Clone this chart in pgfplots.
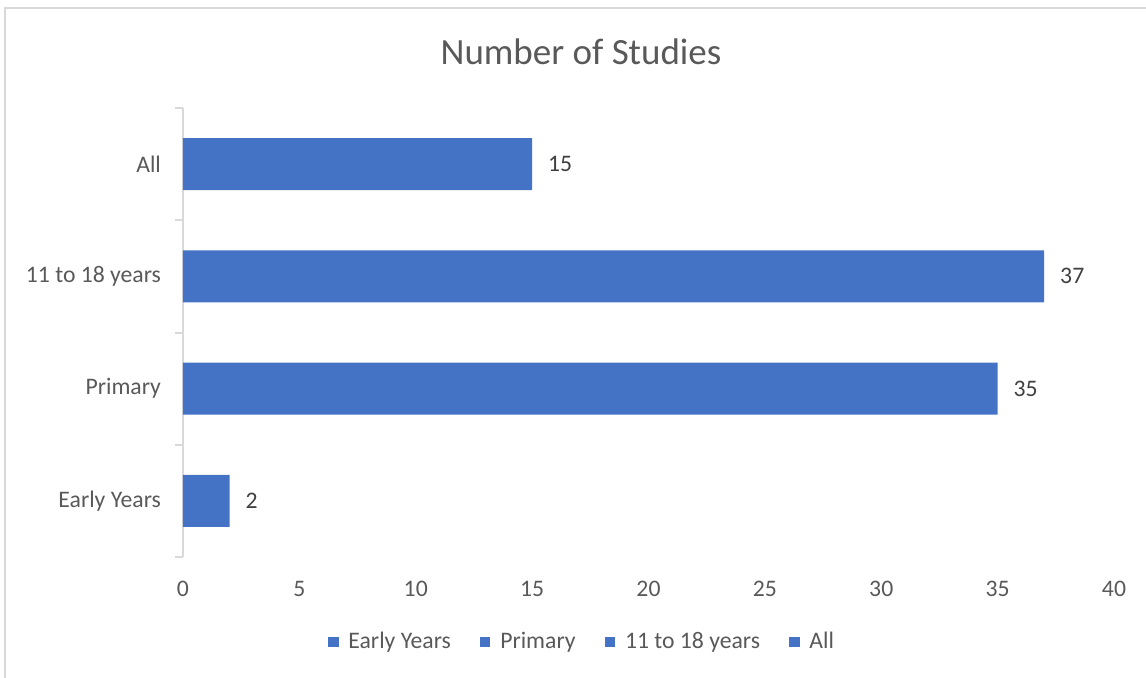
\documentclass[border=0pt]{standalone}
\usepackage{fontspec}
\setmainfont{Carlito}
\usepackage{pgfplots}
\pgfplotsset{compat=1.18}
\definecolor{barblue}{HTML}{4472C4}
\definecolor{txtgray}{HTML}{595959}
\definecolor{lblgray}{HTML}{404040}
\definecolor{axgray}{HTML}{D9D9D9}
\begin{document}
\begin{tikzpicture}
\useasboundingbox (0,0) rectangle (573pt,-339pt);
\draw[axgray, line width=1pt] (2.5pt,-339pt) -- (2.5pt,-4pt) -- (573pt,-4pt);
\node[text=txtgray, font=\fontsize{18.5}{22}\selectfont] at (290.5pt,-26pt) {Number of Studies};
\begin{axis}[
  at={(91.5pt,-278.5pt)}, anchor=south west,
  scale only axis, width=465.5pt, height=224.5pt,
  xbar, bar width=0.463, bar shift=0pt,
  xmin=0, xmax=40, ymin=-0.5, ymax=3.5,
  xtick={0,5,...,40},
  ytick={0,1,2,3},
  yticklabels={Early Years, Primary, 11 to 18 years, All},
  minor ytick={-0.5,0.5,1.5,2.5,3.5},
  axis x line*=bottom, axis y line*=left,
  x axis line style={draw=none},
  y axis line style={draw=axgray, line width=1pt},
  major tick length=0pt,
  minor tick length=4pt,
  tick align=outside,
  every minor tick/.append style={draw=axgray, line width=1pt},
  tick label style={font=\fontsize{11.85}{14}\selectfont, text=txtgray},
  /pgf/number format/assume math mode=true,
  xticklabel style={yshift=-8.5pt},
  yticklabel style={xshift=-7.5pt},
  point meta=x,
  nodes near coords,
  nodes near coords style={font=\fontsize{11.85}{14}\selectfont, text=lblgray, xshift=4.5pt},
  legend columns=4,
  legend style={at={(0.4297,-0.1893)}, anchor=center, draw=none, fill=none,
    font=\fontsize{11.85}{14}\selectfont, text=txtgray,
    /tikz/every odd column/.append style={column sep=3pt},
    /tikz/every even column/.append style={column sep=12.5pt}},
  legend image code/.code={\fill[barblue] (0pt,-2.4pt) rectangle (4.8pt,2.4pt);},
]
\addplot[fill=barblue, draw=none, bar shift=0pt, forget plot] coordinates {(2,0) (35,1) (37,2) (15,3)};
\addlegendimage{barblue}
\addlegendentry{Early Years}
\addlegendimage{barblue}
\addlegendentry{Primary}
\addlegendimage{barblue}
\addlegendentry{11 to 18 years}
\addlegendimage{barblue}
\addlegendentry{All}
\end{axis}
\end{tikzpicture}
\end{document}
